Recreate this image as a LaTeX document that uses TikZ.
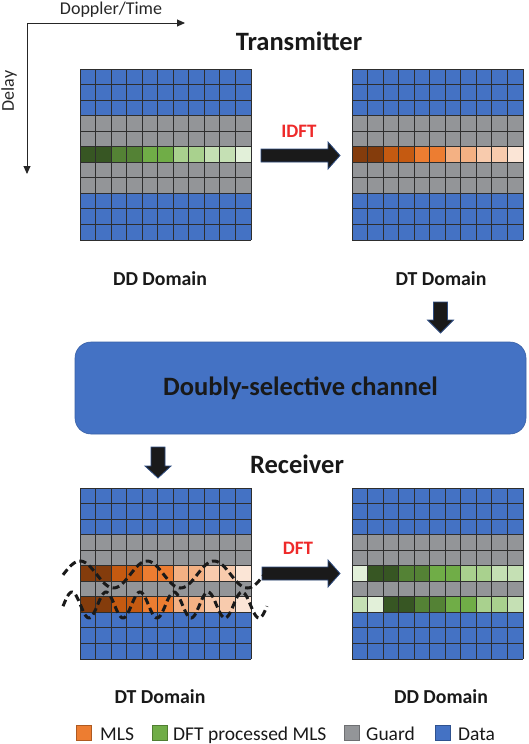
\documentclass[tikz,border=0pt]{standalone}
\usepackage{fontspec}
\setmainfont{Carlito}
\usetikzlibrary{arrows.meta}
\definecolor{cB}{HTML}{4472C4}
\definecolor{cBd}{HTML}{2F528F}
\definecolor{cG}{HTML}{939598}
\definecolor{cGd}{HTML}{6E6F72}
\definecolor{g1}{HTML}{375623}
\definecolor{g2}{HTML}{548235}
\definecolor{g3}{HTML}{70AD47}
\definecolor{g4}{HTML}{A9D18E}
\definecolor{g5}{HTML}{C5E0B4}
\definecolor{g6}{HTML}{E2F0D9}
\definecolor{g3d}{HTML}{507E32}
\definecolor{o1}{HTML}{843C0C}
\definecolor{o2}{HTML}{C55A11}
\definecolor{o3}{HTML}{ED7D31}
\definecolor{o4}{HTML}{F4B183}
\definecolor{o5}{HTML}{F8CBAD}
\definecolor{o6}{HTML}{FBE5D6}
\definecolor{o3d}{HTML}{AE5A21}
\definecolor{gridc}{HTML}{2E2E2E}
\definecolor{arrowfill}{HTML}{1A1A1A}
\definecolor{arrowedge}{HTML}{2E4C80}
\definecolor{redtxt}{HTML}{EE2A2A}
\def\cs{15.545}
\newcommand\ddgrid[3]{%
  \begin{scope}[shift={(#2,#3)}]
    \fill[cB] (0,0) rectangle (11*\cs,11*\cs);
    \fill[cG] (0,3*\cs) rectangle (11*\cs,8*\cs);
  \end{scope}
  \node[inner sep=0pt, minimum size=171pt] (#1) at (#2+85.5,#3+85.5) {};}
\newcommand\cellrow[4]{%
  \begin{scope}[shift={(#1,#2)}]
    \foreach \c [count=\k from 0] in {#4}
      \fill[\c] (\k*\cs,#3*\cs) rectangle ++(\cs,\cs);
  \end{scope}}
\newcommand\gridlines[2]{%
  \begin{scope}[shift={(#1,#2)}]
    \foreach \k in {0,...,11} {
      \draw[gridline] (\k*\cs,0) -- (\k*\cs,11*\cs);
      \draw[gridline] (0,\k*\cs) -- (11*\cs,\k*\cs);
    }
  \end{scope}}
\begin{document}
\begin{tikzpicture}[x=1pt,y=-1pt,
  gridline/.style={draw=gridc, line width=0.9pt},
  title/.style={font=\fontsize{26.5}{31}\selectfont\bfseries, text=black!90, inner sep=0pt, anchor=base},
  domlabel/.style={font=\fontsize{19.8}{23}\selectfont\bfseries, text=black!90, inner sep=0pt, anchor=base},
  oplabel/.style={font=\fontsize{19}{23}\selectfont\bfseries, text=redtxt, inner sep=0pt, anchor=base},
  axlabel/.style={font=\fontsize{18}{22}\selectfont, text=black!85, inner sep=0pt},
  leglabel/.style={font=\fontsize{19.5}{23}\selectfont, text=black!90, inner sep=0pt, anchor=base west},
  legbox/.style={line width=0.8pt, minimum size=15pt, inner sep=0pt},
  blockarrow/.style={fill=arrowfill, draw=arrowedge, line width=0.8pt, line join=miter},
  axis/.style={draw=black!85, line width=0.9pt, -{Triangle[length=8pt,width=7pt]}},
  wave/.style={draw=arrowfill, line width=3pt, dash pattern=on 7pt off 4pt},
  chan/.style={fill=cB, draw=cB!85!black, line width=0.6pt, rounded corners=16pt}
  ]
\useasboundingbox (0,0) rectangle (528,744);
% axes
\coordinate (orig) at (27,23);
\coordinate (dop) at (185,23);
\coordinate (del) at (27,174);
\draw[axis] (orig) -- (dop);
\draw[axis] (orig) -- (del);
\node[axlabel, anchor=base] (doplab) at (111,14) {Doppler/Time};
\node[axlabel, rotate=90, anchor=center] (dellab) at (9,91) {Delay};
% titles
\node[title] (tx) at (299,50) {Transmitter};
\node[title] (rx) at (297,473) {Receiver};
% top-left DD grid
\ddgrid{ddtx}{80}{69}
\cellrow{80}{69}{5}{g1,g1,g2,g2,g3,g3,g4,g4,g5,g5,g6}
\gridlines{80}{69}
% top-right DT grid
\ddgrid{dttx}{352}{69}
\cellrow{352}{69}{5}{o1,o1,o2,o2,o3,o3,o4,o4,o5,o5,o6}
\gridlines{352}{69}
% bottom-left DT grid
\ddgrid{dtrx}{80}{488}
\cellrow{80}{488}{5}{o1,o1,o2,o2,o3,o3,o4,o4,o5,o5,o6}
\cellrow{80}{488}{7}{o1,o1,o2,o2,o3,o3,o4,o4,o5,o5,o6}
\gridlines{80}{488}
% bottom-right DD grid
\ddgrid{ddrx}{352}{488}
\cellrow{352}{488}{5}{g6,g1,g1,g2,g2,g3,g3,g4,g4,g5,g5}
\cellrow{352}{488}{7}{g5,g6,g1,g1,g2,g2,g3,g3,g4,g4,g5}
\gridlines{352}{488}
% domain labels
\node[domlabel] (l1) at (160,285) {DD Domain};
\node[domlabel] (l2) at (441,285) {DT Domain};
\node[domlabel] (l3) at (160,703) {DT Domain};
\node[domlabel] (l4) at (441,703) {DD Domain};
% IDFT arrow
\draw[blockarrow] (261,149) -- (328,149) -- (328,142) -- (340,155.5) -- (328,169) -- (328,162) -- (261,162) -- cycle;
\node[oplabel] (idft) at (299,137) {IDFT};
% DFT arrow
\draw[blockarrow] (262,567) -- (328,567) -- (328,560) -- (340,573.5) -- (328,587) -- (328,580) -- (262,580) -- cycle;
\node[oplabel] (dft) at (298,554) {DFT};
% down arrows
\draw[blockarrow] (433.5,302) -- (447.5,302) -- (447.5,320) -- (453.5,320) -- (440.5,333) -- (427.5,320) -- (433.5,320) -- cycle;
\draw[blockarrow] (151,447) -- (165,447) -- (165,466) -- (171,466) -- (158,478) -- (145,466) -- (151,466) -- cycle;
% channel
\node[chan, minimum width=451pt, minimum height=92pt, inner sep=0pt] (chan) at (300.5,388) {};
\node[title, anchor=center] (chantxt) at (300.5,388) {\vphantom{D}Doubly-selective channel};
% waves
\draw[wave] plot[domain=63:264, samples=150] (\x,{574.5-13.5*cos((\x-80)*5.37313)});
\draw[wave] plot[domain=63:267, samples=200] (\x,{605-13*cos((\x-72)*10.58824)});
% legend
\node[legbox, fill=o3, draw=o3d] (lm) at (83.5,733) {};
\node[leglabel] (lmt) at (100,740) {MLS};
\node[legbox, fill=g3, draw=g3d] (lg) at (159.5,733) {};
\node[leglabel] (lgt) at (173,740) {DFT processed MLS};
\node[legbox, fill=cG, draw=cGd] (lgu) at (352,733) {};
\node[leglabel] (lgut) at (366,740) {Guard};
\node[legbox, fill=cB, draw=cBd] (ld) at (443,733) {};
\node[leglabel] (ldt) at (458,740) {Data};
\end{tikzpicture}
\end{document}
